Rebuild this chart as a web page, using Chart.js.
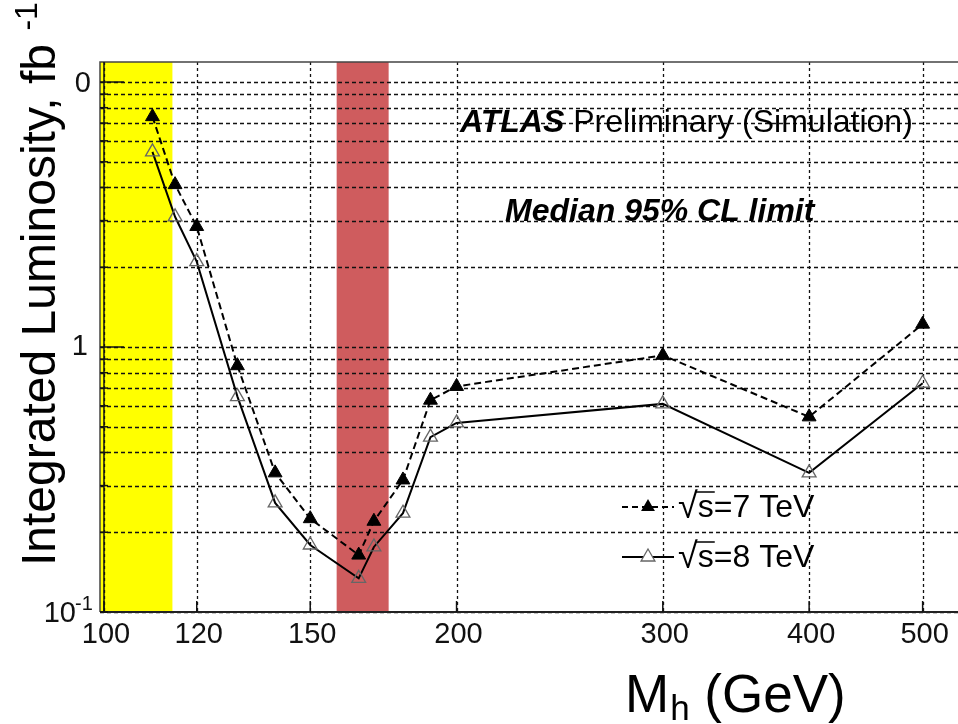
<!DOCTYPE html>
<html>
<head>
<meta charset="utf-8">
<script src="https://cdn.jsdelivr.net/npm/chart.js@4.4.1/dist/chart.umd.min.js"></script>
<style>
html,body{margin:0;padding:0;background:#fff;}
#wrap{width:958px;height:724px;position:relative;}
</style>
</head>
<body>
<div id="wrap"><canvas id="c" width="958" height="724"></canvas></div>
<script>
// ---- data ----
const masses = [110, 115, 120, 130, 140, 150, 165, 170, 180, 190, 200, 300, 400, 500];
const lumi7TeV = [7.4, 4.1, 2.85, 0.85, 0.335, 0.225, 0.164, 0.22, 0.315, 0.63, 0.71, 0.93, 0.545, 1.22];
const lumi8TeV = [5.45, 3.1, 2.1, 0.65, 0.258, 0.179, 0.134, 0.176, 0.236, 0.457, 0.517, 0.61, 0.335, 0.73];
const xTickValues = [100, 120, 150, 200, 300, 400, 500];
const xTickLabels = ['100', '120', '150', '200', '300', '400', '500'];
const yGridValues = [0.1,0.2,0.3,0.4,0.5,0.6,0.7,0.8,0.9,1,2,3,4,5,6,7,8,9,10];
const lepBand = [99, 114.4];
const tevatronBand = [158, 175];
const seriesLabels = ['7 TeV', '8 TeV'];

const FONT = '"Liberation Sans", Arial, sans-serif';

const toPts = (ys) => masses.map((m, i) => ({x: m, y: ys[i]}));

const bandsPlugin = {
  id: 'bands',
  beforeDraw(chart) {
    const {ctx, chartArea: a, scales: {x}} = chart;
    ctx.save();
    ctx.fillStyle = '#fff';
    ctx.fillRect(0, 0, chart.width, chart.height);
    const fill = (b, col) => {
      const x1 = Math.max(x.getPixelForValue(b[0]), a.left);
      const x2 = x.getPixelForValue(b[1]);
      ctx.fillStyle = col;
      ctx.fillRect(x1, a.top, x2 - x1, a.bottom - a.top);
    };
    fill(lepBand, '#FFFF00');
    fill(tevatronBand, '#CF5C5E');
    ctx.restore();
  },
  beforeDatasetsDraw(chart) {
    const {ctx, chartArea: a, scales: {x, y}} = chart;
    ctx.save();
    ctx.strokeStyle = '#111';
    ctx.lineWidth = 1.3;
    ctx.setLineDash([4, 3]);
    yGridValues.forEach(v => {
      const py = Math.round(y.getPixelForValue(v)) + 0.5;
      ctx.beginPath(); ctx.moveTo(a.left, py); ctx.lineTo(a.right, py); ctx.stroke();
    });
    ctx.setLineDash([3, 3]);
    xTickValues.forEach(v => {
      const px = Math.round(x.getPixelForValue(v)) + 0.5;
      ctx.beginPath(); ctx.moveTo(px, a.top); ctx.lineTo(px, a.bottom); ctx.stroke();
    });
    ctx.restore();
  }
};

const decorPlugin = {
  id: 'decor',
  afterDraw(chart) {
    const {ctx, chartArea: a, scales: {x, y}} = chart;
    ctx.save();
    // frame
    ctx.strokeStyle = '#444';
    ctx.lineWidth = 1.5;
    ctx.beginPath();
    ctx.moveTo(a.right + 2, a.top); ctx.lineTo(a.left, a.top); ctx.lineTo(a.left, a.bottom);
    ctx.stroke();
    ctx.strokeStyle = '#222';
    ctx.lineWidth = 2;
    ctx.beginPath(); ctx.moveTo(a.left, a.bottom); ctx.lineTo(a.right + 2, a.bottom); ctx.stroke();
    // y axis line at x=100
    const x0 = x.getPixelForValue(100);
    ctx.lineWidth = 1.5; ctx.strokeStyle = '#111';
    ctx.beginPath(); ctx.moveTo(x0, a.top); ctx.lineTo(x0, a.bottom); ctx.stroke();
    // y ticks
    yGridValues.forEach(v => {
      const py = y.getPixelForValue(v);
      const major = (v === 1 || v === 10);
      ctx.beginPath(); ctx.moveTo(a.left, py); ctx.lineTo(x0 + (major ? 20 : 4), py); ctx.stroke();
    });
    // x ticks
    xTickValues.forEach(v => {
      const px = x.getPixelForValue(v);
      ctx.beginPath(); ctx.moveTo(px, a.bottom); ctx.lineTo(px, a.bottom - 11); ctx.stroke();
    });
    // x tick labels
    ctx.fillStyle = '#111';
    ctx.font = '29px ' + FONT;
    ctx.textAlign = 'center';
    ctx.textBaseline = 'alphabetic';
    xTickValues.forEach((v, i) => {
      ctx.fillText(xTickLabels[i], x.getPixelForValue(v) + 2, a.bottom + 31);
    });
    // y tick labels
    ctx.textBaseline = 'middle';
    ctx.textAlign = 'right';
    ctx.font = '29px ' + FONT;
    ctx.fillText('0', 91, y.getPixelForValue(10) + 2);
    ctx.fillText('1', 88, y.getPixelForValue(1));
    const yb = y.getPixelForValue(0.1) + 2;
    ctx.fillText('10', 76, yb);
    ctx.textAlign = 'left';
    ctx.font = '20px ' + FONT;
    ctx.fillText('-1', 75, yb - 10);

    // axis titles
    ctx.fillStyle = '#000';
    ctx.save();
    ctx.translate(55, 566);
    ctx.rotate(-Math.PI / 2);
    ctx.textAlign = 'left';
    ctx.textBaseline = 'alphabetic';
    ctx.font = '48px ' + FONT;
    const t1 = 'Integrated Luminosity, fb ';
    ctx.fillText(t1, 0, 0);
    const w1 = ctx.measureText(t1).width;
    ctx.font = '32px ' + FONT;
    ctx.fillText('-1', w1, -18);
    ctx.restore();

    ctx.textAlign = 'left';
    ctx.textBaseline = 'alphabetic';
    ctx.font = '53px ' + FONT;
    let xt = 625;
    ctx.fillText('M', xt, 712);
    xt += ctx.measureText('M').width + 1;
    ctx.font = '35px ' + FONT;
    ctx.fillText('h', xt, 720);
    xt += ctx.measureText('h').width;
    ctx.font = '53px ' + FONT;
    ctx.fillText(' (GeV)', xt, 712);

    // annotations
    ctx.font = 'italic bold 32px ' + FONT;
    ctx.fillText('ATLAS', 460, 132);
    const wa = ctx.measureText('ATLAS ').width;
    ctx.font = '32px ' + FONT;
    ctx.fillText('Preliminary (Simulation)', 460 + wa, 132);
    ctx.font = 'italic bold 32px ' + FONT;
    ctx.fillText('Median 95% CL limit', 505, 221);

    // legend
    const rows = [
      {y: 507, dash: [6, 4], filled: true, label: seriesLabels[0]},
      {y: 557, dash: [], filled: false, label: seriesLabels[1]}
    ];
    rows.forEach(r => {
      ctx.strokeStyle = '#000';
      ctx.lineWidth = 2;
      ctx.setLineDash(r.dash);
      ctx.beginPath(); ctx.moveTo(622, r.y); ctx.lineTo(674, r.y); ctx.stroke();
      ctx.setLineDash([]);
      const cx = 648, cy = r.y, rr = 8;
      ctx.beginPath();
      ctx.moveTo(cx, cy - rr);
      ctx.lineTo(cx + rr * 0.866, cy + rr / 2);
      ctx.lineTo(cx - rr * 0.866, cy + rr / 2);
      ctx.closePath();
      if (r.filled) { ctx.fillStyle = '#000'; ctx.fill(); }
      else { ctx.fillStyle = '#fff'; ctx.fill(); ctx.strokeStyle = '#666'; ctx.lineWidth = 1.3; ctx.stroke(); }
      ctx.fillStyle = '#000';
      ctx.textBaseline = 'middle';
      ctx.font = '36px ' + FONT;
      ctx.fillText('\u221A', 678, r.y + 1);
      const wr = ctx.measureText('\u221A').width;
      ctx.font = '32px ' + FONT;
      ctx.fillText('s=' + r.label, 678 + wr, r.y + 1);
      const ws = ctx.measureText('s').width;
      ctx.strokeStyle = '#000'; ctx.lineWidth = 1.5;
      ctx.beginPath(); ctx.moveTo(678 + wr - 2, r.y - 15); ctx.lineTo(678 + wr + ws + 1, r.y - 15); ctx.stroke();
    });
    ctx.restore();
  }
};

new Chart(document.getElementById('c'), {
  type: 'scatter',
  data: {
    datasets: [
      {
        label: seriesLabels[0],
        data: toPts(lumi7TeV),
        showLine: true,
        borderColor: '#000',
        borderWidth: 2,
        borderDash: [7, 4],
        pointStyle: 'triangle',
        pointRadius: 8,
        pointBackgroundColor: '#000',
        pointBorderColor: '#000',
        pointBorderWidth: 1
      },
      {
        label: seriesLabels[1],
        data: toPts(lumi8TeV),
        showLine: true,
        borderColor: '#000',
        borderWidth: 2,
        pointStyle: 'triangle',
        pointRadius: 8,
        pointBackgroundColor: 'rgba(0,0,0,0)',
        pointBorderColor: '#666',
        pointBorderWidth: 1.3
      }
    ]
  },
  options: {
    responsive: false,
    animation: false,
    devicePixelRatio: 1,
    layout: {autoPadding: false, padding: {top: 62, left: 0, right: 0, bottom: 0}},
    plugins: {legend: {display: false}, tooltip: {enabled: false}},
    scales: {
      x: {
        type: 'logarithmic',
        min: 99.22,
        max: 536,
        afterBuildTicks: (s) => { s.ticks = xTickValues.map(v => ({value: v})); },
        afterFit: (s) => { s.height = 112; },
        ticks: {display: false},
        grid: {display: false, drawTicks: false},
        border: {display: false}
      },
      y: {
        type: 'logarithmic',
        min: 0.1,
        max: 11.9,
        afterBuildTicks: (s) => { s.ticks = yGridValues.map(v => ({value: v})); },
        afterFit: (s) => { s.width = 100; },
        ticks: {display: false},
        grid: {display: false, drawTicks: false},
        border: {display: false}
      }
    }
  },
  plugins: [bandsPlugin, decorPlugin]
});
</script>
</body>
</html>
